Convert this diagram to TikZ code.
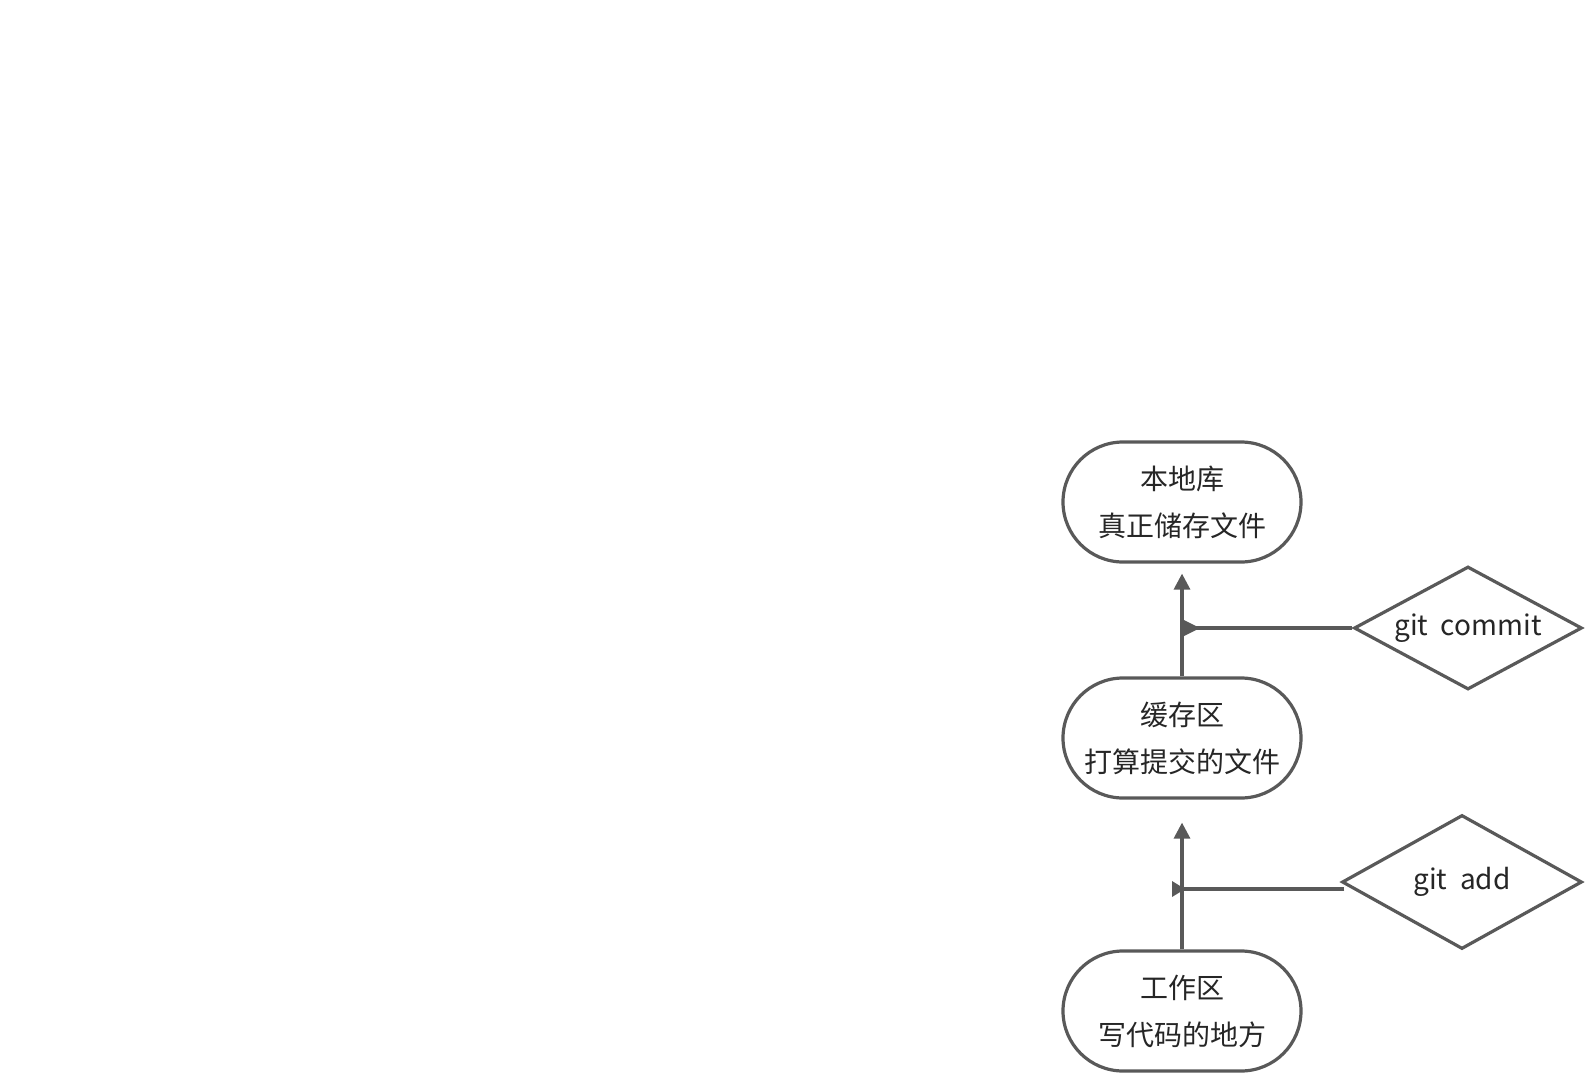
\documentclass[tikz,border=0pt]{standalone}
\usepackage{fontspec}
\setmainfont{Noto Sans CJK SC}
\usetikzlibrary{arrows.meta,shapes.geometric,calc}
\definecolor{lc}{HTML}{595959}
\definecolor{tc}{HTML}{262626}
\tikzset{
  stadium/.style={draw=lc, line width=1.6pt, rounded corners=30pt, minimum width=119pt, minimum height=60pt, inner sep=0pt, align=center, text=tc, font=\fontsize{14}{23.5}\selectfont},
  dia/.style={draw=lc, line width=1.6pt, diamond, inner sep=0pt, text=tc, font=\fontsize{14}{20}\selectfont},
  conn/.style={draw=lc, line width=1.6pt},
  arr/.style={conn, -{Triangle[length=8pt,width=8pt]}},
}
\begin{document}
\begin{tikzpicture}[x=0.5pt,y=-0.5pt]
\useasboundingbox (0,0) rectangle (1585,1076);
\node[stadium] (repo) at (1182,502) {本地库\\真正储存文件};
\node[stadium] (stage) at (1182,738) {缓存区\\打算提交的文件};
\node[stadium] (work) at (1182,1011) {工作区\\写代码的地方};
\node[dia, aspect=1.85, minimum width=114pt, minimum height=61.5pt] (commit) at (1468,628) {git\ \ commit};
\node[dia, aspect=1.79, minimum width=120pt, minimum height=67pt] (add) at (1462,882) {git\ \ add};
\coordinate (c1) at (1182,628);
\coordinate (a1) at (1182,889);
\draw[arr, shorten >=5pt] (stage.north) -- (repo.south);
\draw[arr, shorten >=11.5pt] (work.north) -- (stage.south);
\draw[conn] (commit.west) -- (c1);
\draw[conn] ($(add.west)+(4,7)$) -- (a1);
\fill[lc] ($(c1)+(0,-9)$) -- ($(c1)+(18,0)$) -- ($(c1)+(0,9)$) -- cycle;
\fill[lc] ($(a1)+(-10,-8)$) -- ($(a1)+(3,0)$) -- ($(a1)+(-10,8)$) -- cycle;
\end{tikzpicture}
\end{document}
